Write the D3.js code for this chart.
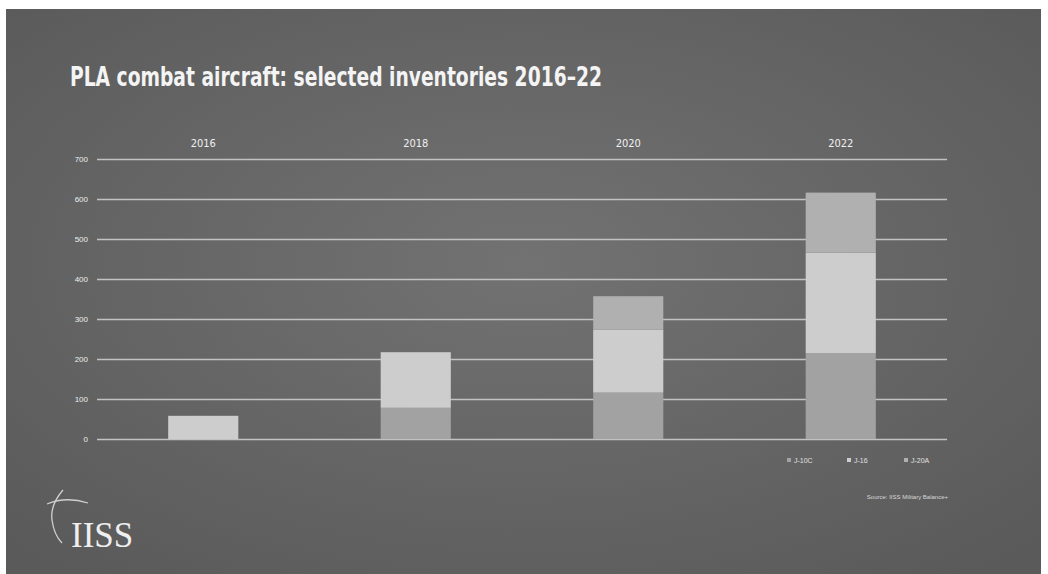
<!DOCTYPE html>
<html>
<head>
<meta charset="utf-8">
<script src="https://cdn.jsdelivr.net/npm/d3@7"></script>
<style>
  html, body { margin: 0; padding: 0; background: #fff; }
  svg { display: block; }
</style>
</head>
<body>
<div id="chart"></div>
<script>
// values
const years = ['2016', '2018', '2020', '2022'];
const seriesNames = ['J-10C', 'J-16', 'J-20A'];
const j10c = [0, 78, 116, 215];
const j16 = [58, 139, 157, 251];
const j20a = [0, 0, 84, 150];
const yTicks = [0, 100, 200, 300, 400, 500, 600, 700];

const colors = { 'J-10C': '#a2a2a2', 'J-16': '#cdcdcd', 'J-20A': '#b0b0b0' };

const W = 1048, H = 574;
const margin = { top: 159, right: 101, bottom: 135, left: 97 };
const width = W - margin.left - margin.right;
const height = H - margin.top - margin.bottom;

const svg = d3.select('#chart')
  .append('svg')
  .attr('width', W)
  .attr('height', H);

// slide background
const defs = svg.append('defs');
const grad = defs.append('radialGradient')
  .attr('id', 'bg')
  .attr('cx', '50%').attr('cy', '45%').attr('r', '70%');
grad.append('stop').attr('offset', '0%').attr('stop-color', '#727272');
grad.append('stop').attr('offset', '100%').attr('stop-color', '#5a5a5a');

svg.append('rect')
  .attr('x', 6).attr('y', 9)
  .attr('width', 1035).attr('height', H - 9)
  .attr('fill', 'url(#bg)');

svg.append('text')
  .attr('x', 70).attr('y', 86)
  .attr('fill', '#f4f4f4')
  .style('font-family', '"Liberation Sans Narrow", "DejaVu Sans Condensed", sans-serif')
  .style('font-weight', 'bold')
  .style('font-size', '27px')
  .attr('textLength', 532)
  .attr('lengthAdjust', 'spacingAndGlyphs')
  .text('PLA combat aircraft: selected inventories 2016–22');

const g = svg.append('g')
  .attr('transform', `translate(${margin.left}, ${margin.top})`);

const scaleX = d3.scaleBand()
  .domain(years)
  .range([0, width])
  .paddingInner(0.67)
  .paddingOuter(0.335);

const scaleY = d3.scaleLinear()
  .domain([0, 700])
  .range([height, 0]);

// grid lines
g.append('g')
  .attr('class', 'grid')
  .call(d3.axisLeft(scaleY).tickValues(yTicks).tickFormat('').tickSize(-width))
  .call(s => s.select('.domain').remove())
  .call(s => s.selectAll('line').attr('stroke', '#c2c2c2').attr('stroke-width', 1.6));

// tick labels
g.append('g')
  .call(d3.axisLeft(scaleY).tickValues(yTicks).tickSize(0).tickPadding(9))
  .call(s => s.select('.domain').remove())
  .call(s => s.selectAll('text')
    .attr('fill', '#eeeeee')
    .style('font-family', '"Liberation Sans Narrow", sans-serif')
    .style('font-size', '8px'));

// year labels on top
g.append('g')
  .call(d3.axisTop(scaleX).tickSize(0).tickPadding(12))
  .call(s => s.select('.domain').remove())
  .call(s => s.selectAll('text')
    .attr('fill', '#f0f0f0')
    .style('font-family', '"Liberation Sans Narrow", "DejaVu Sans Condensed", sans-serif')
    .style('font-size', '11px'));

const table = years.map((y, i) => ({ year: y, 'J-10C': j10c[i], 'J-16': j16[i], 'J-20A': j20a[i] }));
const stacked = d3.stack().keys(seriesNames)(table);

g.selectAll('.series')
  .data(stacked)
  .join('g')
  .attr('class', 'series')
  .attr('fill', d => colors[d.key])
  .selectAll('rect')
  .data(d => d.filter(p => p[1] > p[0]))
  .join('rect')
  .attr('x', d => scaleX(d.data.year))
  .attr('width', scaleX.bandwidth())
  .attr('y', d => scaleY(d[1]))
  .attr('height', d => scaleY(d[0]) - scaleY(d[1]));

// legend
const legendX = [787, 847, 904];
const legend = svg.append('g');
seriesNames.forEach((name, i) => {
  legend.append('rect')
    .attr('x', legendX[i]).attr('y', 458)
    .attr('width', 4).attr('height', 4)
    .attr('fill', colors[name]);
  legend.append('text')
    .attr('x', legendX[i] + 7).attr('y', 462.5)
    .attr('fill', '#e0e0e0')
    .style('font-family', '"Liberation Sans Narrow", sans-serif')
    .style('font-size', '7px')
    .text(name);
});

svg.append('text')
  .attr('x', 948).attr('y', 499)
  .attr('text-anchor', 'end')
  .attr('fill', '#d8d8d8')
  .style('font-family', '"Liberation Sans Narrow", sans-serif')
  .style('font-size', '6px')
  .text('Source: IISS Military Balance+');

// IISS logo
const logo = svg.append('g').attr('fill', 'none').attr('stroke', '#d0d0d0').attr('stroke-width', 1.3);
logo.append('path').attr('d', 'M63,490 Q50,505 52,520 Q54,535 62,543');
logo.append('path').attr('d', 'M47,504 Q66,496 88,503');
svg.append('text')
  .attr('x', 71).attr('y', 547)
  .attr('fill', '#efefef')
  .style('font-family', '"Liberation Serif", serif')
  .style('font-size', '35px')
  .text('IISS');
</script>
</body>
</html>
